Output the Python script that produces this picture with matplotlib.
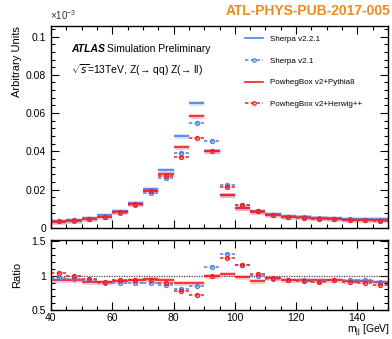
import numpy as np
import matplotlib
matplotlib.use("Agg")
import matplotlib.pyplot as plt
from matplotlib.ticker import MultipleLocator, FuncFormatter
from matplotlib.lines import Line2D

plt.rcParams['font.family'] = ['Liberation Sans', 'DejaVu Sans']
plt.rcParams['mathtext.fontset'] = 'custom'
plt.rcParams['mathtext.rm'] = 'Liberation Sans'

# m_jj bins, 5 GeV wide
bin_edges = np.arange(40, 155, 5)

# distributions (units of 1e-3, as shown on the axis)
sherpa221 = [0.0036, 0.0041, 0.0052, 0.0066, 0.0088, 0.0132, 0.0203, 0.0302, 0.0482, 0.0652, 0.0403,
             0.0170, 0.0104, 0.0088, 0.0072, 0.0064, 0.0059, 0.0054, 0.0051, 0.0048, 0.0046, 0.0045]
sherpa21 = [0.0035, 0.0039, 0.0049, 0.0059, 0.0079, 0.0119, 0.0181, 0.0262, 0.0393, 0.0551, 0.0455,
            0.0222, 0.0120, 0.0088, 0.0069, 0.0060, 0.0055, 0.0050, 0.0048, 0.0045, 0.0043, 0.0041]
powheg_py8 = [0.0033, 0.0039, 0.0047, 0.0060, 0.0081, 0.0124, 0.0193, 0.0284, 0.0424, 0.0586, 0.0403,
              0.0173, 0.0102, 0.0081, 0.0069, 0.0060, 0.0055, 0.0050, 0.0047, 0.0044, 0.0042, 0.0041]
powheg_hw = [0.0037, 0.0041, 0.0049, 0.0060, 0.0083, 0.0124, 0.0191, 0.0272, 0.0370, 0.0470, 0.0403,
             0.0214, 0.0120, 0.0090, 0.0069, 0.0060, 0.0054, 0.0049, 0.0048, 0.0044, 0.0041, 0.0039]

# ratios to Sherpa v2.2.1
ratio_sherpa21 = [0.97, 0.95, 0.94, 0.90, 0.90, 0.90, 0.89, 0.86, 0.81, 0.85, 1.13,
                  1.31, 1.15, 1.00, 0.955, 0.93, 0.93, 0.92, 0.94, 0.93, 0.93, 0.91]
ratio_py8 = [0.93, 0.94, 0.91, 0.91, 0.92, 0.94, 0.95, 0.94, 0.89, 0.90, 1.00,
             1.02, 0.985, 0.92, 0.96, 0.93, 0.93, 0.93, 0.93, 0.92, 0.92, 0.91]
ratio_hw = [1.04, 1.00, 0.95, 0.91, 0.94, 0.94, 0.94, 0.90, 0.77, 0.72, 1.00,
            1.26, 1.15, 1.02, 0.96, 0.93, 0.92, 0.91, 0.94, 0.91, 0.89, 0.86]

BLUE = '#4a80f0'
RED = '#ff1a1a'
DASH = (0, (2.2, 1.6))

lo = bin_edges[:-1]
hi = bin_edges[1:]
centers = 0.5 * (lo + hi)


def solid(ax, y, color, band=True):
    if band:
        ax.hlines(y, lo, hi, colors=color, linewidth=3.5, alpha=0.25)
    ax.hlines(y, lo, hi, colors=color, linewidth=1.2)


def dashed(ax, y, color):
    ax.hlines(y, lo, hi, colors=color, linewidth=1.1, linestyles=[DASH])
    ax.plot(centers, y, 'o', ms=2.8, mfc='none', mec=color, mew=1.0, ls='none')


def style(ax):
    ax.tick_params(which='both', direction='in', top=True, right=True, labelsize=7.5, width=0.8)
    ax.tick_params(which='major', length=6)
    ax.tick_params(which='minor', length=3)
    for s in ax.spines.values():
        s.set_linewidth(1.0)


fmt = FuncFormatter(lambda v, p: '%g' % round(v, 3))

fig = plt.figure(figsize=(3.92, 3.39), dpi=100)
W, H = 392.0, 339.0
ax = fig.add_axes([51 / W, 1 - 228 / H, 337 / W, 202 / H])
axr = fig.add_axes([51 / W, 1 - 310 / H, 337 / W, 70 / H], sharex=ax)

solid(ax, sherpa221, BLUE)
solid(ax, powheg_py8, RED)
dashed(ax, sherpa21, BLUE)
dashed(ax, powheg_hw, RED)

ax.set_xlim(40, 150)
ax.set_ylim(0, 0.1055)
ax.yaxis.set_major_locator(MultipleLocator(0.02))
ax.yaxis.set_minor_locator(MultipleLocator(0.004))
ax.xaxis.set_major_locator(MultipleLocator(20))
ax.xaxis.set_minor_locator(MultipleLocator(5))
ax.yaxis.set_major_formatter(fmt)
style(ax)
ax.tick_params(labelbottom=False)
ax.set_ylabel('Arbitrary Units', loc='top', fontsize=8)
ax.yaxis.set_label_coords(-0.085, 1.0)

handles = [
    Line2D([], [], color=BLUE, lw=1.2),
    Line2D([], [], color=BLUE, lw=1.1, ls=DASH, marker='o', ms=2.5, mfc='none', mew=0.9),
    Line2D([], [], color=RED, lw=1.2),
    Line2D([], [], color=RED, lw=1.1, ls=DASH, marker='o', ms=2.5, mfc='none', mew=0.9),
]
labels = ['Sherpa v2.2.1', 'Sherpa v2.1', 'PowhegBox v2+Pythia8', 'PowhegBox v2+Herwig++']
ax.legend(handles, labels, loc='upper left', bbox_to_anchor=(0.565, 0.97), frameon=False,
          fontsize=5.8, handlelength=2.3, handletextpad=0.8, labelspacing=1.75, numpoints=1,
          borderaxespad=0)

ax.text(0.06, 0.87, 'ATLAS', transform=ax.transAxes, fontsize=7.5, weight='bold', style='italic')
ax.text(0.165, 0.87, 'Simulation Preliminary', transform=ax.transAxes, fontsize=7.5)
ax.text(0.06, 0.76, r'$\sqrt{s}$=13TeV, Z(→ qq) Z(→ ll)', transform=ax.transAxes, fontsize=7.5)

fig.text(50 / W, 1 - 20 / H, r'×10$^{-3}$', fontsize=7, color='#333333')
fig.text(0.995, 0.955, 'ATL-PHYS-PUB-2017-005', ha='right', fontsize=10, weight='bold',
         color='#f0891d')

# ratio panel
axr.axhline(1.0, color='#444444', lw=0.9, ls=(0, (1, 1)))
solid(axr, ratio_py8, RED, band=True)
dashed(axr, ratio_sherpa21, BLUE)
dashed(axr, ratio_hw, RED)
axr.set_ylim(0.5, 1.52)
axr.yaxis.set_major_locator(MultipleLocator(0.5))
axr.yaxis.set_minor_locator(MultipleLocator(0.1))
axr.yaxis.set_major_formatter(fmt)
style(axr)
axr.tick_params(axis='x', pad=2)
axr.set_ylabel('Ratio', fontsize=8)
axr.yaxis.set_label_coords(-0.085, 0.5)
fig.text(0.995, 0.0, r'm$_{\rm jj}$ [GeV]', ha='right', va='bottom', fontsize=7.5)

fig.savefig('out.png', dpi=100)
